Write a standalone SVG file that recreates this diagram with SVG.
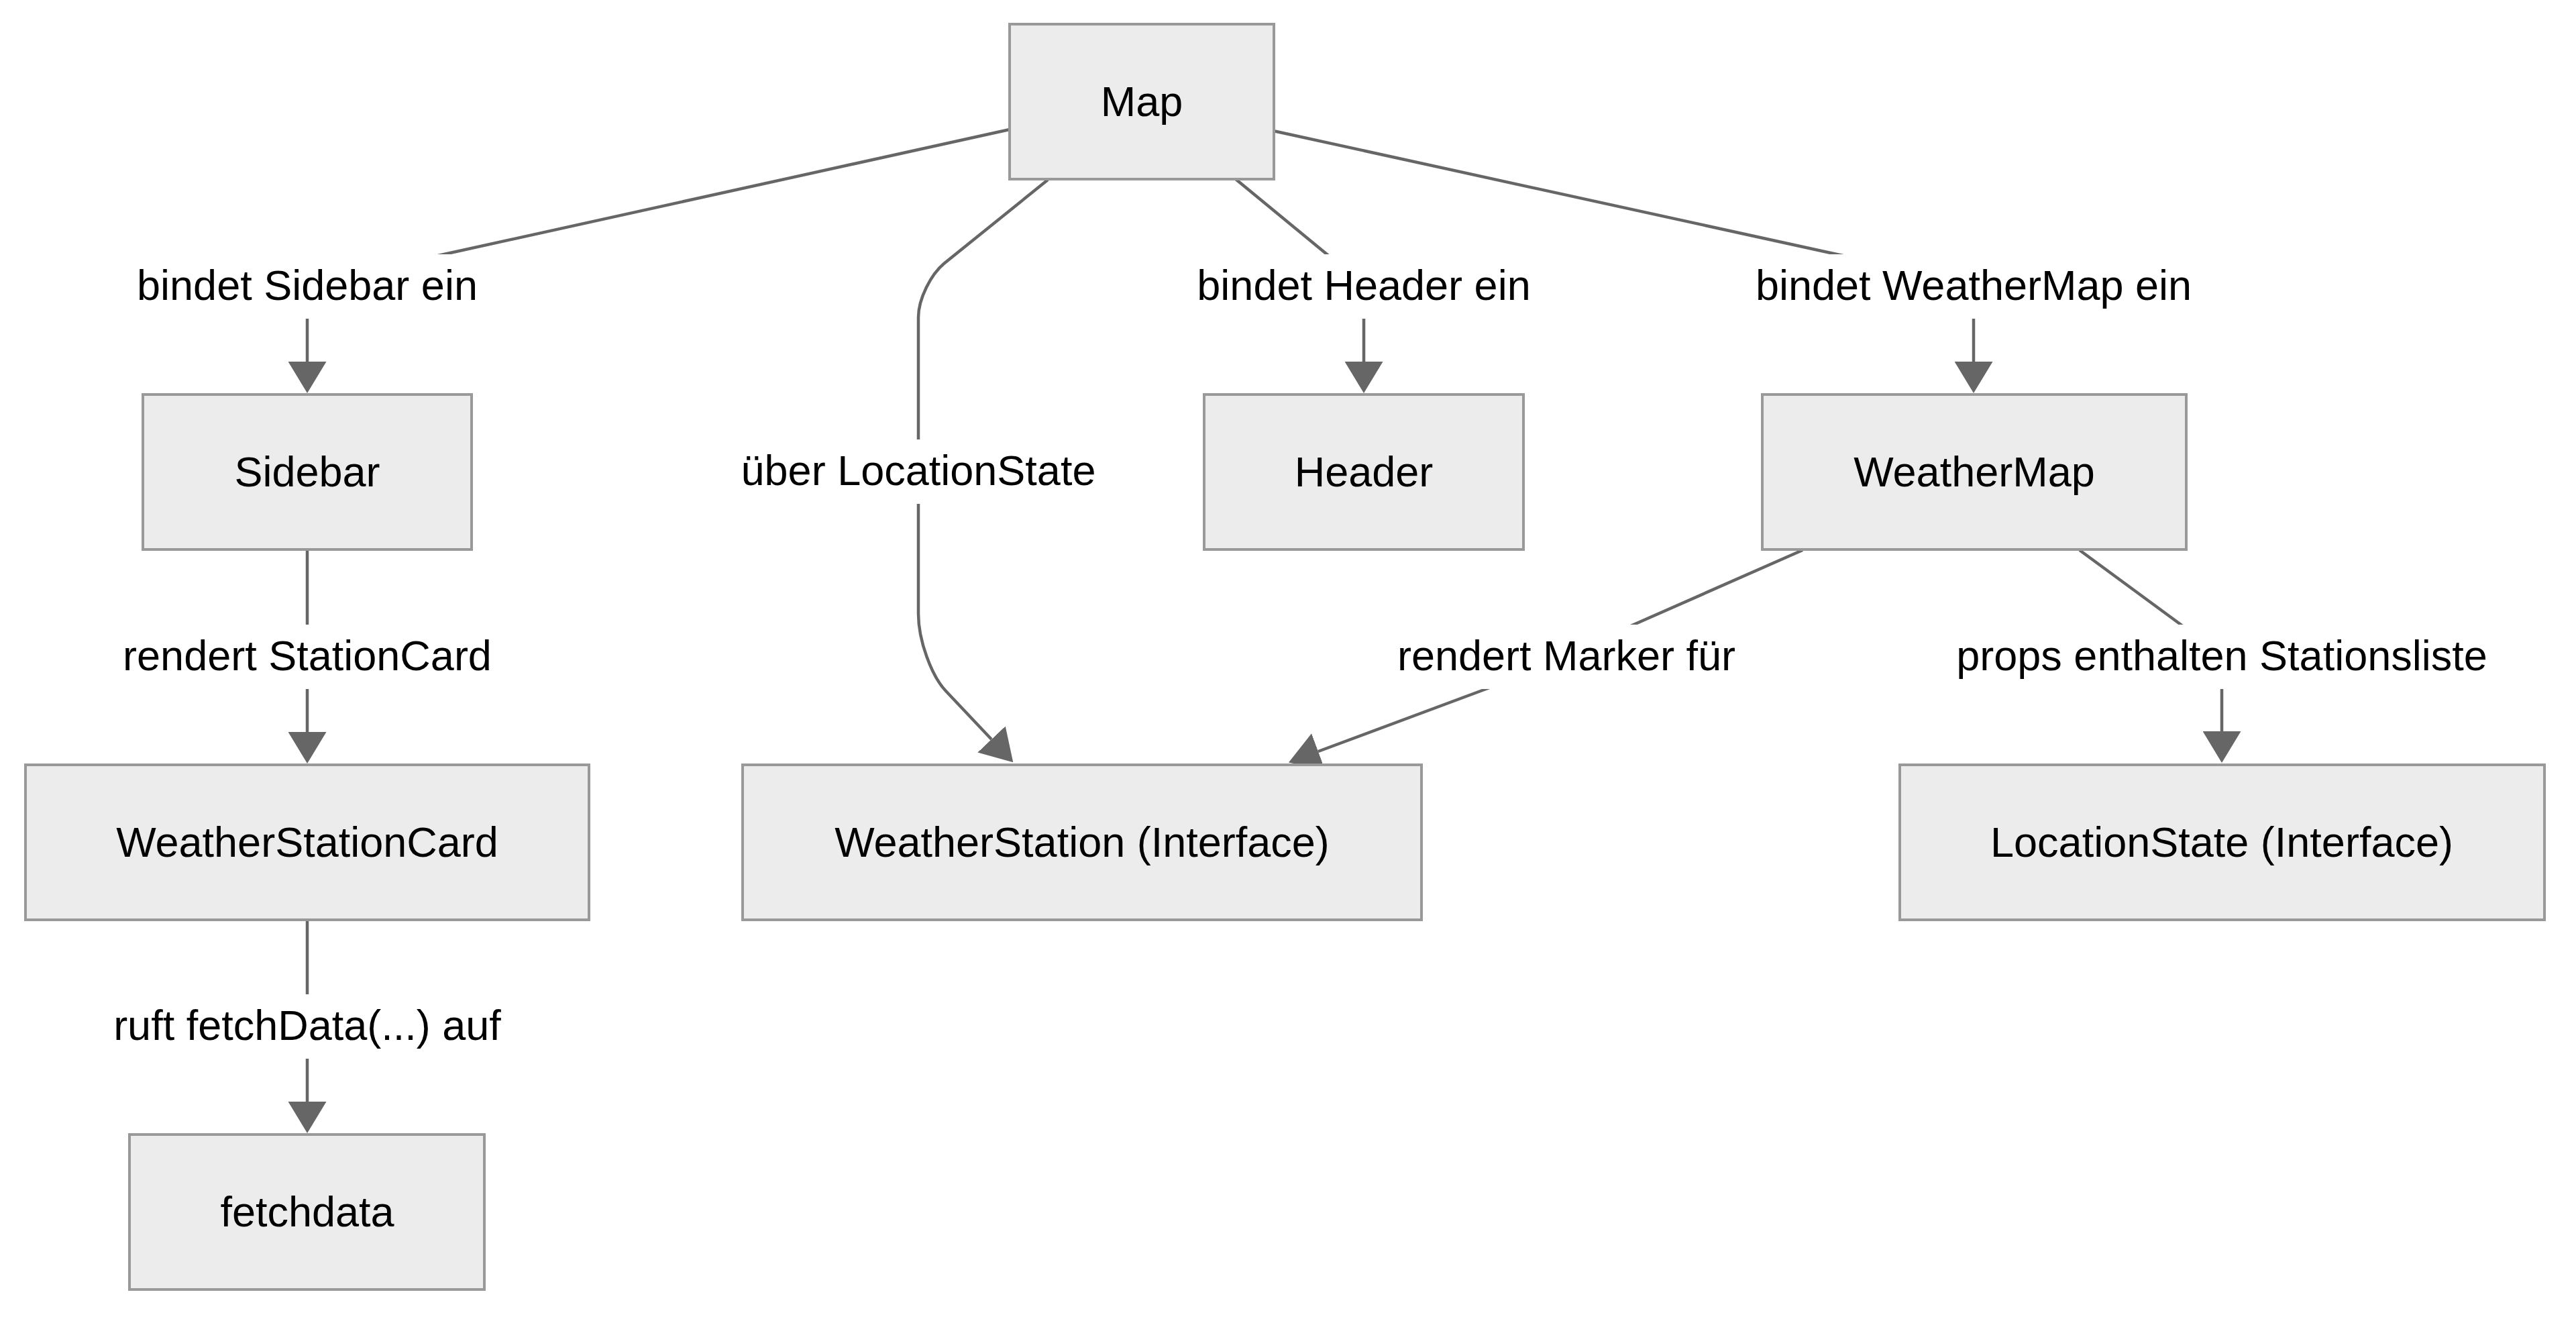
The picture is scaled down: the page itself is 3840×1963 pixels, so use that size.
<svg xmlns="http://www.w3.org/2000/svg" width="3840" height="1963" viewBox="0 0 3840 1963">
<style>
.node rect{fill:#ececec;stroke:#999999;stroke-width:4}
.node text,.label text{font-family:"Liberation Sans",Arial,sans-serif;font-size:63px;fill:#000000;text-anchor:middle}
.edge{fill:none;stroke:#666666;stroke-width:4.5;marker-end:url(#arrow)}
.label rect{fill:#ffffff}
</style>
<defs>
<marker id="arrow" markerUnits="userSpaceOnUse" viewBox="0 0 47 57" markerWidth="47" markerHeight="57" refX="0" refY="28.5" orient="auto">
<path d="M0,0 L47,28.5 L0,57 Z" fill="#666666"/>
</marker>
</defs>
<rect x="0" y="0" width="3840" height="1963" fill="#ffffff"/>
<g id="connectors">
<path class="edge" d="M1505,193 L662,379 C540,406 458,430 458,475 L458,539"/>
<path class="edge" d="M1842,267 L1978,379 C2010,405 2033,430 2033,475 L2033,539"/>
<path class="edge" d="M1898,195 L2738,379 C2860,405 2942,430 2942,475 L2942,539"/>
<path class="edge" d="M1562,268 L1407,393 C1388,409 1369,445 1369,473 L1369,915 C1369,955 1389,1008 1410,1030 L1478,1102"/>
<path class="edge" d="M458,818 L458,1091"/>
<path class="edge" d="M458,1371 L458,1642"/>
<path class="edge" d="M2687,820 L2433,932 C2350,968 2280,1003 2215,1027 L1965,1120"/>
<path class="edge" d="M3100,820 L3251,931 C3290,960 3312,990 3312,1027 L3312,1090"/>
</g>
<g id="edge-labels">
<g class="label"><rect x="204" y="379" width="508" height="96"/><text x="458" y="447">bindet Sidebar ein</text></g>
<g class="label"><rect x="1784" y="379" width="498" height="96"/><text x="2033" y="447">bindet Header ein</text></g>
<g class="label"><rect x="2616" y="379" width="652" height="96"/><text x="2942" y="447">bindet WeatherMap ein</text></g>
<g class="label"><rect x="1104" y="655" width="530" height="96"/><text x="1369" y="723">über LocationState</text></g>
<g class="label"><rect x="183" y="931" width="550" height="96"/><text x="458" y="999">rendert StationCard</text></g>
<g class="label"><rect x="2083" y="931" width="504" height="96"/><text x="2335" y="999">rendert Marker für</text></g>
<g class="label"><rect x="2916" y="931" width="792" height="96"/><text x="3312" y="999">props enthalten Stationsliste</text></g>
<g class="label"><rect x="169" y="1482" width="578" height="96"/><text x="458" y="1550">ruft fetchData(...) auf</text></g>
</g>
<g id="node-Map" class="node"><rect x="1505" y="36" width="394" height="231"/><text x="1702" y="173">Map</text></g>
<g id="node-Sidebar" class="node"><rect x="213" y="588" width="490" height="231"/><text x="458" y="725">Sidebar</text></g>
<g id="node-Header" class="node"><rect x="1795" y="588" width="476" height="231"/><text x="2033" y="725">Header</text></g>
<g id="node-WeatherMap" class="node"><rect x="2627" y="588" width="632" height="231"/><text x="2943" y="725">WeatherMap</text></g>
<g id="node-WeatherStationCard" class="node"><rect x="38" y="1140" width="840" height="231"/><text x="458" y="1277">WeatherStationCard</text></g>
<g id="node-WeatherStation" class="node"><rect x="1107" y="1140" width="1012" height="231"/><text x="1613" y="1277">WeatherStation (Interface)</text></g>
<g id="node-LocationState" class="node"><rect x="2832" y="1140" width="961" height="231"/><text x="3312" y="1277">LocationState (Interface)</text></g>
<g id="node-fetchdata" class="node"><rect x="193" y="1691" width="529" height="231"/><text x="458" y="1828">fetchdata</text></g>
</svg>
